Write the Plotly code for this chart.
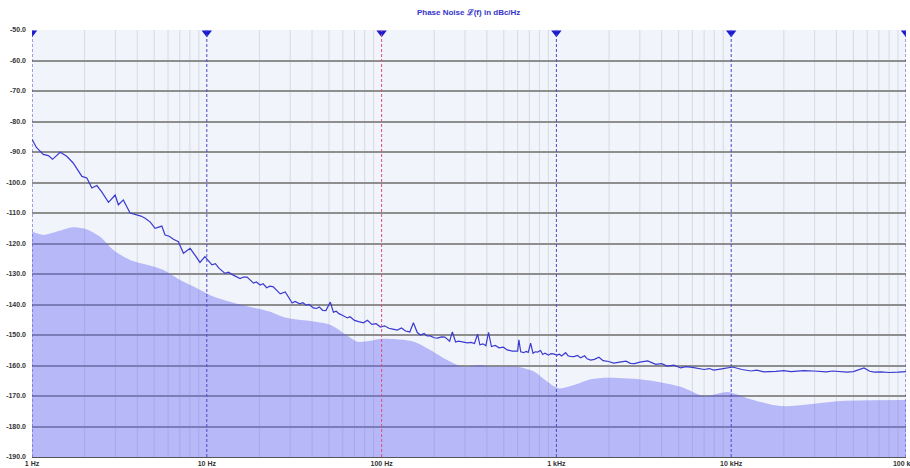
import plotly.graph_objects as go

# ---- data ----
noise_freq = [1.0, 1.06, 1.16, 1.24, 1.31, 1.45, 1.58, 1.72, 1.93, 2.06, 2.2, 2.35, 2.5, 2.74, 2.99,
              3.12, 3.33, 3.64, 3.97, 4.2, 4.44, 4.75, 5.06, 5.53, 5.77, 6.1, 6.44, 6.88, 7.35, 8.03, 8.6, 9.14, 9.75,
              10.7, 11.2, 11.7, 12.7, 13.3, 14, 14.7, 15.5, 16.2, 17, 18.5, 19.2, 20.2, 21, 22, 23, 24, 25, 26.3, 28.1,
              30.8, 32, 34, 35.5, 37, 38.5, 40.7, 42.5, 44, 46, 48, 50.9, 53, 55, 57, 60, 63.7, 66, 70, 74, 78.7, 83, 88,
              93, 98.5, 104, 110, 116, 123, 130, 137, 145, 152, 160, 167, 175, 182, 190, 200, 209, 220,
              230, 240, 245, 254, 265, 275, 290, 310, 325, 340, 354, 365, 380, 395, 409, 425, 447, 470, 497, 523,
              560, 600, 610, 625, 651, 670, 690, 712, 735, 757, 780, 812, 835, 860, 902, 930, 960, 1012, 1040,
              1070, 1129, 1165, 1200, 1260, 1320, 1376, 1450, 1500,
              1570, 1650, 1750, 1850, 1990, 2127, 2300, 2500, 2650, 2800, 3000, 3330, 3700, 4000, 4300, 4700,
              5143, 5500, 6000, 6500, 7000, 7500, 7950, 9000, 10200, 11500, 13000, 14000, 15380, 18000, 20000, 22000, 26000, 29700,
              35000, 38000, 42000, 46000, 50000, 57500, 62000, 66000, 71900, 80000, 90000, 100000]
noise_db = [-85.8, -88.5, -90.8, -91.2, -92.4, -90.1, -91.4, -93.6, -98.0, -98.5, -101.8, -101.0, -103.0,
            -106.5, -104.1, -107.3, -105.7, -110.0, -110.6, -111.0, -111.7, -113.0, -115.0, -114.3, -117.2, -117.6,
            -118.6, -119.4, -123.2, -121.6, -124.0, -126.2, -124.3, -127.0, -126.6, -128.0, -129.8, -129.4, -130.2,
            -130.8, -131.5, -131.0, -131.0, -133.0, -132.6, -133.6, -133.2, -134.5, -134.0, -134.2, -135.2, -136.5,
            -135.9, -139.5, -139.0, -139.8, -139.4, -140.2, -140.0, -141.1, -141.3, -140.8, -141.9, -142.0,
            -139.2, -142.5, -142.2, -143.0, -143.6, -144.4, -144.0, -145.2, -145.6, -146.0, -145.2, -146.5,
            -146.3, -147.4, -147.0, -147.8, -148.1, -148.4, -147.7, -148.7, -149.0, -146.0, -149.2, -150.0,
            -149.5, -150.3, -150.3, -150.9, -151.0, -150.6, -150.7, -151.4, -152.0, -149.0, -152.3, -152.0,
            -152.3, -152.6, -152.4, -152.8, -149.7, -153.2, -152.9, -153.5, -149.1, -153.8, -153.4, -154.2,
            -154.0, -154.9, -155.3, -155.3, -151.6, -155.5, -155.8, -155.4, -155.7, -152.7, -156.0, -155.5,
            -155.6, -155.1, -156.4, -156.0, -156.6, -156.1, -156.2, -156.6, -156.3, -156.9, -155.8, -156.8,
            -157.0, -157.1, -156.7, -157.5, -156.8, -157.8, -158.2, -158.0, -157.3, -158.4, -158.7, -159.2,
            -158.9, -158.6, -159.3, -159.4, -158.9, -158.5, -159.6, -159.4, -160.2, -159.9, -160.8, -160.4,
            -160.6, -161.0, -161.3, -161.0, -161.5, -161.0, -160.5, -161.3, -161.8, -161.5, -162.1, -161.9,
            -161.7, -162.0, -161.7, -161.8, -162.1, -161.8, -161.9, -162.2, -162.0, -160.8, -161.9, -162.2,
            -162.1, -162.3, -162.2, -162.0]

floor_freq = [1.0, 1.16, 1.39, 1.72, 2.06, 2.45, 2.92, 3.64, 4.54, 5.65, 7.04, 8.78, 10.9, 15.5, 22.9,
              28.0, 40.7, 51, 63, 72.5, 86.6, 98, 122, 153, 190, 237, 294, 368, 420, 597, 743, 887,
              1033, 1260, 1570, 1990, 3330, 5143, 6970, 9570, 12400, 19200, 42300, 100000]
floor_db = [-116.1, -117.2, -116.1, -114.7, -115.4, -117.8, -122.1, -125.4, -127.0, -128.7, -132.0,
            -134.7, -137.4, -140.0, -142.3, -144.3, -145.6, -146.7, -150.0, -152.2, -151.9, -151.3,
            -151.4, -152.2, -154.9, -158.2, -160.4, -159.8, -160.4, -160.4, -162.0, -165.3, -167.5,
            -166.4, -164.5, -164.0, -164.8, -167.0, -170.0, -168.7, -170.7, -173.3, -171.6, -171.3]

marker_freq = [1, 10, 100, 1000, 10000, 100000]
marker_colors = ["#4a4ac8", "#4a4ac8", "#e05074", "#4a4ac8", "#4a4ac8", "#4a4ac8"]

x_tick_vals = [1, 10, 100, 1000, 10000, 100000]
x_tick_text = ["1 Hz", "10 Hz", "100 Hz", "1 kHz", "10 kHz", "100 kHz"]
y_tick_vals = [-190, -180, -170, -160, -150, -140, -130, -120, -110, -100, -90, -80, -70, -60, -50]
y_tick_text = ["%.1f" % v for v in y_tick_vals]

Y_MIN, Y_MAX = -190, -50

# minor grid positions (2..9 per decade)
minor_vals = [m * d for d in [1, 10, 100, 1000, 10000] for m in range(2, 10)]

fig = go.Figure()

# baseline for the floor fill
fig.add_trace(go.Scatter(x=[1, 100000], y=[Y_MIN, Y_MIN], mode="lines",
                         line=dict(width=0, color="rgba(0,0,0,0)"), hoverinfo="skip", showlegend=False))
fig.add_trace(go.Scatter(x=floor_freq, y=floor_db, mode="lines", fill="tonexty",
                         fillcolor="rgba(100,100,245,0.42)",
                         line=dict(width=0, color="rgba(100,100,245,0)", shape="spline", smoothing=0.8),
                         showlegend=False))
fig.add_trace(go.Scatter(x=noise_freq, y=noise_db, mode="lines",
                         line=dict(width=1.2, color="#3a3ad0"), showlegend=False))

# marker lines
shapes = []
for f, c in zip(marker_freq, marker_colors):
    shapes.append(dict(type="line", xref="x", yref="y", x0=f, x1=f, y0=Y_MIN, y1=Y_MAX,
                       line=dict(color=c, width=1, dash="3px,2px"), layer="above"))
# minor vertical grid
for v in minor_vals:
    shapes.append(dict(type="line", xref="x", yref="y", x0=v, x1=v, y0=Y_MIN, y1=Y_MAX,
                       line=dict(color="rgba(170,175,190,0.38)", width=1), layer="below"))

fig.add_trace(go.Scatter(x=marker_freq, y=[Y_MAX - 0.9] * len(marker_freq), mode="markers",
                         marker=dict(symbol="triangle-down", size=9, color="#1a1ad0"),
                         showlegend=False, cliponaxis=True))

fig.update_layout(
    width=910, height=468,
    margin=dict(l=32, r=4, t=30, b=11, autoexpand=False),
    paper_bgcolor="white",
    plot_bgcolor="#f1f4fa",
    shapes=shapes,
    title=dict(text="<b>Phase Noise \u2112(f) in dBc/Hz</b>", x=0.515, xanchor="center",
               y=1 - 12 / 468, yanchor="middle", yref="container",
               font=dict(family="Liberation Sans, Arial", size=8, color="#3434c8")),
    xaxis=dict(type="log", range=[0, 5.00001], tickvals=x_tick_vals, ticktext=x_tick_text,
               showgrid=False, zeroline=False, showline=True, linecolor="#555", linewidth=1,
               automargin=False, ticklabeloverflow="allow",
               ticks="", tickfont=dict(family="Liberation Sans, Arial", size=7, color="#333",
                                       weight="bold")),
    yaxis=dict(range=[Y_MIN, Y_MAX], tickvals=y_tick_vals, ticktext=y_tick_text,
               showgrid=True, gridcolor="#8e8e8e", gridwidth=1.5, zeroline=False,
               automargin=False, ticklabelstandoff=5,
               ticks="", tickfont=dict(family="Liberation Sans, Arial", size=7, color="#333",
                                       weight="bold")),
)

fig.write_html("out.html", config={"displayModeBar": False},
               post_script="document.body.style.margin='0';")
